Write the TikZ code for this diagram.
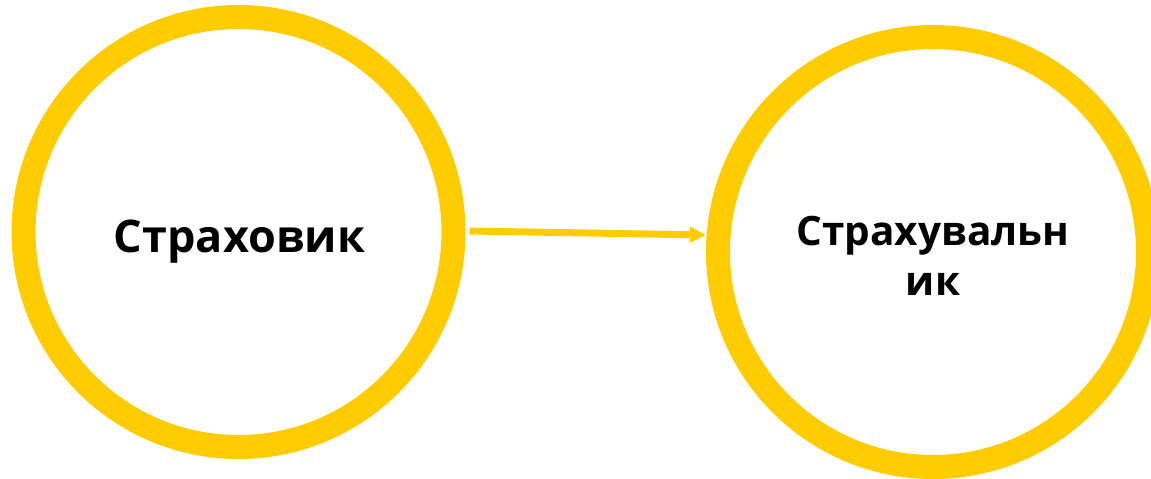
\documentclass[tikz,border=0pt]{standalone}
\usepackage{fontspec}
\setmainfont{Open Sans}
\usetikzlibrary{arrows.meta}
\definecolor{ringyellow}{HTML}{FFCC00}
\begin{document}
\begin{tikzpicture}[x=1pt,y=-1pt,
  ring/.style={circle,draw=ringyellow,line width=24pt,minimum size=430pt,inner sep=0pt,fill=white},
  lbl/.style={font=\bfseries\fontsize{45}{50}\selectfont,text=black,anchor=base,inner sep=0pt},
  lblr/.style={font=\bfseries\fontsize{40.5}{50}\selectfont,text=black,anchor=base,inner sep=0pt,align=center},
  conn/.style={draw=ringyellow,line width=7pt,-{Triangle[length=16pt,width=15pt]}}]
\useasboundingbox (0,0) rectangle (1151,479);
\node[ring] (a) at (238.5,232) {};
\node[ring] (b) at (933,252) {};
\node[lbl] (ta) at (239.5,252) {Страховик};
\node[lblr] (tb) at (933,295) {Страхувальн\\ик};
\draw[conn] ([yshift=1pt,xshift=4pt]a.east) -- ([yshift=17pt]b.west);
\end{tikzpicture}
\end{document}
